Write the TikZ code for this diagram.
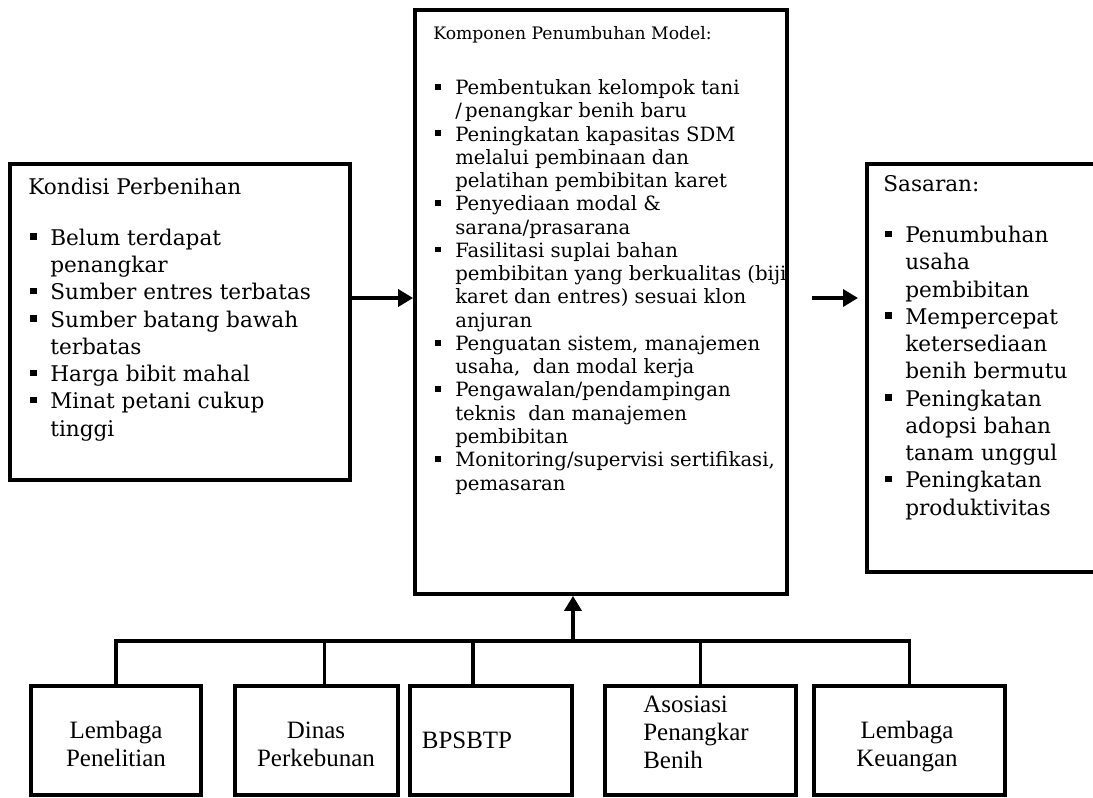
\documentclass[tikz,border=0pt]{standalone}
\usepackage{fontspec}
\setmainfont{DejaVu Serif}
\newfontfamily\lblfont{Liberation Serif}
\usetikzlibrary{arrows.meta}

\newcommand{\bul}{\makebox[12.5pt][l]{\hspace{1pt}\rule[0.25em]{0.3em}{0.3em}}}
\newcommand{\ind}{\hspace*{12.5pt}}

\tikzset{
    box/.style={draw, line width=2.2pt, inner sep=0pt},
    wire/.style={line width=2pt},
    arr/.style={wire, -{Triangle[length=0.3cm, width=0.34cm]}},
    side/.style={font=\fontsize{12.3}{15.5}\selectfont, align=left, inner sep=0pt, anchor=base west},
    mid/.style={font=\fontsize{11.2}{13.24}\selectfont, align=left, inner sep=0pt, anchor=base west},
    lbl/.style={font=\lblfont\fontsize{14.2}{15.9}\selectfont, inner sep=0pt, anchor=base}
}

\begin{document}
\begin{tikzpicture}[x=0.02cm, y=-0.02cm]
    \def\bh{2.18cm}     % bottom box height
    \def\by{740.5}      % bottom box centre
    \useasboundingbox (0,0) rectangle (1093,798);
    \clip (0,0) rectangle (1093,798);
    % Draw the three main boxes
    \node[box, minimum width=6.8cm, minimum height=6.32cm] (cond) at (180,322) {};
    \node[box, minimum width=7.44cm, minimum height=11.68cm] (komp) at (601,302) {};
    \node[box, minimum width=4.66cm, minimum height=8.16cm] (sas) at (983.5,368) {};
    % Texts of the main boxes (placed by the baseline of their last line)
    \node[side] (condtxt) at (28,436) {Kondisi Perbenihan\\[13.4pt]
        \bul Belum terdapat\\
        \ind penangkar\\
        \bul Sumber entres terbatas\\
        \bul Sumber batang bawah\\
        \ind terbatas\\
        \bul Harga bibit mahal\\
        \bul Minat petani cukup\\
        \ind tinggi};
    \node[mid] (komptxt) at (433,490) {{\fontsize{9.8}{13.24}\selectfont Komponen Penumbuhan Model:}\\[18pt]
        \bul Pembentukan kelompok tani\\
        \ind /\,penangkar benih baru\\
        \bul Peningkatan kapasitas SDM\\
        \ind melalui pembinaan dan\\
        \ind pelatihan pembibitan karet\\
        \bul Penyediaan modal \&\\
        \ind sarana/prasarana\\
        \bul Fasilitasi suplai bahan\\
        \ind pembibitan yang berkualitas (biji\\
        \ind karet dan entres) sesuai klon\\
        \ind anjuran\\
        \bul Penguatan sistem, manajemen\\
        \ind usaha,\ \ dan modal kerja\\
        \bul Pengawalan/pendampingan\\
        \ind teknis\ \ dan manajemen\\
        \ind pembibitan\\
        \bul Monitoring/supervisi sertifikasi,\\
        \ind pemasaran};
    \node[side] (sastxt) at (883,515) {Sasaran:\\[13.4pt]
        \bul Penumbuhan\\
        \ind usaha\\
        \ind pembibitan\\
        \bul Mempercepat\\
        \ind ketersediaan\\
        \ind benih bermutu\\
        \bul Peningkatan\\
        \ind adopsi bahan\\
        \ind tanam unggul\\
        \bul Peningkatan\\
        \ind produktivitas};
    % Draw the arrows between the main boxes
    \coordinate (c1) at ([yshift=0.48cm]cond.east);
    \draw[arr] (c1) -- (c1 -| komp.west);
    \coordinate (c2) at (812,298);
    \coordinate (c3) at (858,298);
    \draw[arr] (c2) -- (c3);
    % Draw the bottom boxes
    \node[box, minimum width=3.4cm, minimum height=\bh] (lp) at (116,\by) {};
    \node[box, minimum width=3.26cm, minimum height=\bh] (dp) at (316.5,\by) {};
    \node[box, minimum width=3.24cm, minimum height=\bh] (bp) at (491,\by) {};
    \node[box, minimum width=3.82cm, minimum height=\bh] (ap) at (700.5,\by) {};
    \node[box, minimum width=3.82cm, minimum height=\bh] (kp) at (909.5,\by) {};
    \node[lbl, align=center] (lptxt) at (116,766) {Lembaga\\Penelitian};
    \node[lbl, align=center] (dptxt) at (316,766) {Dinas\\Perkebunan};
    \node[lbl] (bptxt) at (467,748) {BPSBTP};
    \node[lbl, align=left, anchor=base west] (aptxt) at (643,768) {Asosiasi\\Penangkar\\Benih};
    \node[lbl, align=center] (kptxt) at (907,766) {Lembaga\\Keuangan};
    % Draw the bus from the bottom boxes up to the middle box
    \coordinate (bus) at (573,641);
    \draw[wire] (lp.north) |- (bus);
    \draw[wire] ([xshift=0.16cm]dp.north) |- (bus);
    \draw[wire] ([xshift=-0.36cm]bp.north) |- (bus);
    \draw[wire] (ap.north) |- (bus);
    \draw[wire] (kp.north) |- (bus);
    \draw[arr] (bus) -- (bus |- komp.south);
\end{tikzpicture}
\end{document}
